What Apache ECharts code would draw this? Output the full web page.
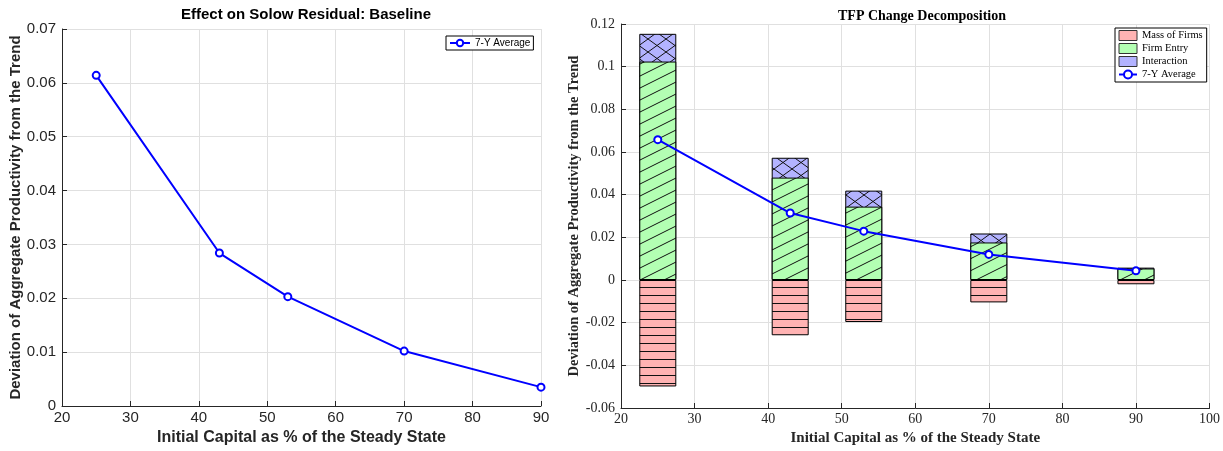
<!DOCTYPE html>
<html>
<head>
<meta charset="utf-8">
<script src="https://cdn.jsdelivr.net/npm/echarts@6/dist/echarts.min.js"></script>
<style>
  html, body { margin: 0; padding: 0; background: #fff; }
  #main { width: 1223px; height: 451px; }
</style>
</head>
<body>
<div id="main"></div>
<script>
// initial capital (% of steady state)
var capital = [25, 43, 53, 70, 90];
// left panel: 7-year average effect on solow residual
var baseline = [0.0614, 0.0284, 0.0203, 0.0102, 0.0035];
// right panel: decomposition
var massOfFirms = [-0.0499, -0.0259, -0.0197, -0.0105, -0.0020];
var firmEntry = [0.1024, 0.0480, 0.0344, 0.0176, 0.0054];
var interaction = [0.0130, 0.0093, 0.0075, 0.0042, 0.0004];
var avgDecomp = [0.0658, 0.0314, 0.0229, 0.0120, 0.0043];

function pair(xs, ys) {
  return xs.map(function (x, i) { return [x, ys[i]]; });
}
// interaction sits on top of firm entry (drawn behind it, full height)
var entryPlusInter = firmEntry.map(function (v, i) { return v + interaction[i]; });

// hatch patterns (like matlab hatchfill)
function hatch(bg, w, h, draw) {
  var c = document.createElement("canvas");
  c.width = w;
  c.height = h;
  var ctx = c.getContext("2d");
  ctx.fillStyle = bg;
  ctx.fillRect(0, 0, w, h);
  ctx.strokeStyle = "#111";
  ctx.lineWidth = 1;
  ctx.beginPath();
  draw(ctx, w, h);
  ctx.stroke();
  return { image: c, repeat: "repeat" };
}
var redFill = hatch("#ffb3b3", 8, 8, function (ctx, w, h) {
  ctx.moveTo(0, 7.5); ctx.lineTo(w, 7.5);
});
var greenFill = hatch("#b3ffb3", 24, 12, function (ctx, w, h) {
  [-h, 0, h].forEach(function (d) {
    ctx.moveTo(0, h + d); ctx.lineTo(w, d);
  });
});
var blueFill = hatch("#b3b3ff", 18, 13, function (ctx, w, h) {
  [-h, 0, h].forEach(function (d) {
    ctx.moveTo(0, h + d); ctx.lineTo(w, d);
    ctx.moveTo(0, d); ctx.lineTo(w, h + d);
  });
});

var sans = "Liberation Sans";
var serif = "Liberation Serif";
var axisCol = "#262626";

function xAx(grid, min, max, font, size, nameSize, gap) {
  return {
    type: "value", gridIndex: grid, min: min, max: max, interval: 10,
    name: "Initial Capital as % of the Steady State",
    nameLocation: "middle", nameGap: gap,
    nameTextStyle: { fontFamily: font, fontWeight: "bold", fontSize: nameSize, color: axisCol },
    axisLine: { show: true, onZero: false, lineStyle: { color: axisCol, width: 1 } },
    axisTick: { show: true, inside: true, length: 5, lineStyle: { color: axisCol } },
    axisLabel: { fontFamily: font, fontSize: size, color: axisCol, margin: 4 },
    splitLine: { show: true, lineStyle: { color: "#e0e0e0" } }
  };
}
function yAx(grid, min, max, interval, font, size, nameSize, gap) {
  return {
    type: "value", gridIndex: grid, min: min, max: max, interval: interval,
    name: "Deviation of Aggregate Productivity from the Trend",
    nameLocation: "middle", nameGap: gap,
    nameTextStyle: { fontFamily: font, fontWeight: "bold", fontSize: nameSize, color: axisCol },
    axisLine: { show: true, onZero: false, lineStyle: { color: axisCol, width: 1 } },
    axisTick: { show: true, inside: true, length: 5, lineStyle: { color: axisCol } },
    axisLabel: { fontFamily: font, fontSize: size, color: axisCol, margin: 6 },
    splitLine: { show: true, lineStyle: { color: "#e0e0e0" } }
  };
}

var lineStyle = {
  type: "line",
  symbol: "circle",
  symbolSize: 7,
  color: "#0000ff",
  lineStyle: { color: "#0000ff", width: 2 },
  itemStyle: { color: "#fff", borderColor: "#0000ff", borderWidth: 2 },
  z: 5
};

var option = {
  animation: false,
  backgroundColor: "#fff",
  title: [
    {
      text: "Effect on Solow Residual: Baseline",
      left: 301, top: 2, textAlign: "center",
      textStyle: { fontFamily: sans, fontWeight: "bold", fontSize: 15, color: "#000" }
    },
    {
      text: "TFP Change Decomposition",
      left: 917, top: 4, textAlign: "center",
      textStyle: { fontFamily: serif, fontWeight: "bold", fontSize: 14, color: "#000" }
    }
  ],
  legend: [
    {
      left: 446, top: 36,
      data: ["7-Y Average"],
      orient: "vertical",
      backgroundColor: "#fff", borderColor: "#000", borderWidth: 1,
      padding: [2, 3], itemWidth: 20, itemHeight: 8,
      textStyle: { fontFamily: sans, fontSize: 10, color: "#000" }
    },
    {
      left: 1115, top: 28,
      orient: "vertical",
      data: [
        { name: "Mass of Firms", icon: "rect", itemStyle: { color: "#ffb3b3", borderColor: "#333", borderWidth: 1 } },
        { name: "Firm Entry", icon: "rect", itemStyle: { color: "#b3ffb3", borderColor: "#333", borderWidth: 1 } },
        { name: "Interaction", icon: "rect", itemStyle: { color: "#b3b3ff", borderColor: "#333", borderWidth: 1 } },
        { name: "7-Y Average" }
      ],
      backgroundColor: "#fff", borderColor: "#000", borderWidth: 1,
      padding: [2, 4, 2, 3], itemGap: 2, itemWidth: 18, itemHeight: 10,
      textStyle: { fontFamily: serif, fontSize: 10.5, color: "#000" }
    }
  ],
  grid: [
    { left: 62, right: 682, top: 29, bottom: 44 },
    { left: 621, right: 10, top: 24, bottom: 42 }
  ],
  xAxis: [
    xAx(0, 20, 90, sans, 15, 16, 24),
    xAx(1, 20, 100, serif, 14, 15, 23)
  ],
  yAxis: [
    yAx(0, 0, 0.07, 0.01, sans, 15, 15, 37),
    yAx(1, -0.06, 0.12, 0.02, serif, 14, 14.5, 35)
  ],
  series: [
    Object.assign({}, lineStyle, {
      name: "7-Y Average", xAxisIndex: 0, yAxisIndex: 0,
      data: pair(capital, baseline)
    }),
    {
      name: "Mass of Firms", type: "bar", xAxisIndex: 1, yAxisIndex: 1,
      barWidth: 37, barGap: "-100%",
      itemStyle: { color: redFill, borderColor: "#000", borderWidth: 1 },
      data: pair(capital, massOfFirms)
    },
    {
      name: "Interaction", type: "bar", xAxisIndex: 1, yAxisIndex: 1,
      barWidth: 37, barGap: "-100%",
      itemStyle: { color: blueFill, borderColor: "#000", borderWidth: 1 },
      data: pair(capital, entryPlusInter)
    },
    {
      name: "Firm Entry", type: "bar", xAxisIndex: 1, yAxisIndex: 1,
      barWidth: 37, barGap: "-100%",
      itemStyle: { color: greenFill, borderColor: "#000", borderWidth: 1 },
      data: pair(capital, firmEntry)
    },
    Object.assign({}, lineStyle, {
      name: "7-Y Average", xAxisIndex: 1, yAxisIndex: 1,
      data: pair(capital, avgDecomp)
    })
  ]
};

var myChart = echarts.init(document.getElementById("main"));
myChart.setOption(option);
</script>
</body>
</html>
